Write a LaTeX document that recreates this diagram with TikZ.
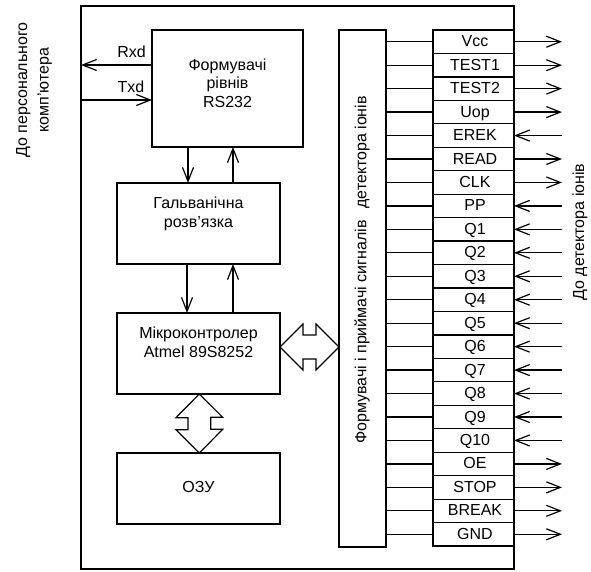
\documentclass[tikz,border=0pt]{standalone}
\usepackage{fontspec}
\setmainfont{Liberation Sans}
\usetikzlibrary{arrows.meta,calc}
\begin{document}
\begin{tikzpicture}[x=1pt,y=-1pt,
  every node/.style={font=\fontsize{16}{18.5}\selectfont, inner sep=0pt, outer sep=0pt},
  ln/.style={line width=1.2pt},
  tip/.tip={Straight Barb[length=14pt,width=11pt]},
  arr/.style={ln,-tip},
  outarr/.style={ln,-tip},
  inarr/.style={ln,tip-},
  blk/.style n args={2}{draw, ln, anchor=north west, minimum width=#1, minimum height=#2},
  rowbox/.style={blk={81pt}{23.4545pt}, text height=11.5pt, text depth=1.5pt},
  vtext/.style={rotate=90}
]
\useasboundingbox (0,0) rectangle (591,571);
\fill[white] (0,0) rectangle (591,571);

% outer frame
\node[blk={433pt}{563pt}] (frame) at (81,6) {};

% blocks
\node[blk={151pt}{117pt}] (rs) at (152,30) {};
\node[blk={163pt}{81pt}] (gal) at (117,183) {};
\node[blk={163pt}{81pt}] (mic) at (117,313) {};
\node[blk={163pt}{71pt}] (ozu) at (117,453) {};
\node[blk={47pt}{517pt}] (col) at (339,30) {};

% block texts
\node[align=center] (rstext) at ([yshift=5.5pt]rs.center) {Формувачі\\рівнів\\RS232};
\node[align=center] (galtext) at ([yshift=9.5pt]gal.center) {Гальванічна\\розв'язка};
\node[align=center] (mictext) at ([yshift=11pt]mic.center) {Мікроконтролер\\Atmel 89S8252};
\node (ozutext) at ([yshift=1.5pt]ozu.center) {ОЗУ};
\node[vtext] (coltext) at (362,270) {Формувачі і приймачі сигналів\hspace{0.45em} детектора іонів};

% outside texts
\node[vtext, align=center, font=\fontsize{16}{21.5}\selectfont] (pc) at (34,90) {До персонального\\комп'ютера};
\node[vtext] (det) at (580,232) {До детектора іонів};

% RS232 lines
\draw[arr] (rs.west |- 0,65) -- (frame.west |- 0,65);
\draw[arr] (frame.west |- 0,100) -- (rs.west |- 0,100);
\node (rxd) at (131.5,52) {Rxd};
\node (txd) at (131,87) {Txd};

% vertical arrows
\draw[arr] (rs.south -| 188,0) -- (gal.north -| 188,0);
\draw[arr] (gal.north -| 233,0) -- (rs.south -| 233,0);
\draw[arr] (gal.south -| 187,0) -- (mic.north -| 187,0);
\draw[arr] (mic.north -| 233,0) -- (gal.south -| 233,0);

% double arrows
\draw[ln] (mic.east |- 0,347) -- ++(23,-23) -- ++(0,11) -- ++(13,0) -- ++(0,-11)
  -- (col.west |- 0,347) -- ++(-23,23) -- ++(0,-11) -- ++(-13,0) -- ++(0,11) -- cycle;
\draw[ln] (mic.south -| 199.3,0) -- ++(23.4,23.3) -- ++(-12,0) -- ++(0,12) -- ++(12,0)
  -- (ozu.north -| 199.3,0) -- ++(-23.4,-23.3) -- ++(12,0) -- ++(0,-12) -- ++(-12,0) -- cycle;

% signal rows
\foreach \t/\s [count=\i from 0] in {Vcc/outarr,TEST1/outarr,TEST2/outarr,Uop/outarr,EREK/inarr,READ/outarr,CLK/outarr,PP/inarr,Q1/inarr,Q2/inarr,Q3/inarr,Q4/inarr,Q5/inarr,Q6/inarr,Q7/inarr,Q8/inarr,Q9/inarr,Q10/inarr,OE/outarr,STOP/outarr,BREAK/outarr,GND/outarr}{
  \node[rowbox] (r\i) at (433,{30+\i*23.4545}) {\hspace{3pt}\t};
  \draw[ln] (r\i.west -| col.east) -- (r\i.west);
  \coordinate (e\i) at ([xshift=48pt]r\i.east);
  \draw[\s] (r\i.east) -- (e\i);
}
\end{tikzpicture}
\end{document}
